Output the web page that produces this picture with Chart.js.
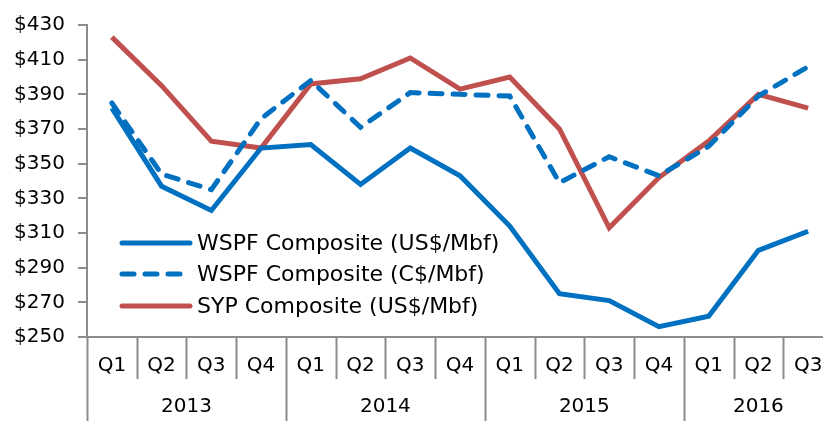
<!DOCTYPE html>
<html>
<head>
<meta charset="utf-8">
<script src="https://cdn.jsdelivr.net/npm/chart.js@4/dist/chart.umd.min.js"></script>
<style>
    html, body {margin: 0; padding: 0; background: #fff; overflow: hidden;}
    #wrap {position: absolute; left: 0; top: 0;}
</style>
</head>
<body>
<div id="wrap"><canvas id="lumberChart" width="833" height="421"></canvas></div>
<script>
const quarters = ["Q1", "Q2", "Q3", "Q4", "Q1", "Q2", "Q3", "Q4", "Q1", "Q2", "Q3", "Q4", "Q1", "Q2", "Q3"];
const years = ["2013", "2014", "2015", "2016"];
const quartersPerYear = [4, 4, 4, 3];

const wspfUS = [382, 337, 323, 359, 361, 338, 359, 343, 314, 275, 271, 256, 262, 300, 311];
const wspfCA = [385, 344, 335, 376, 398, 371, 391, 390, 389, 339, 354, 343, 360, 389, 406];
const sypUS = [423, 395, 363, 359, 396, 399, 411, 393, 400, 370, 313, 342, 363, 390, 382];

const seriesNames = ["WSPF Composite (US$/Mbf)", "WSPF Composite (C$/Mbf)", "SYP Composite (US$/Mbf)"];

const blue = "#0070c0";
const red = "#c0504d";
const axisGray = "#8c8c8c";
const font = "DejaVu Sans, Verdana, sans-serif";

// separators between quarters + year labels under them
const yearAxis = {
    id: "yearAxis",
    afterDraw(chart) {
        const {ctx, chartArea, scales: {x}} = chart;
        const bottom = chart.height;
        const n = quarters.length;
        const edge = i => {
            if (i === 0) return chartArea.left;
            if (i === n) return chartArea.right + 20;
            return (x.getPixelForValue(i - 1) + x.getPixelForValue(i)) / 2;
        };
        ctx.save();
        ctx.strokeStyle = axisGray;
        ctx.lineWidth = 2;
        let starts = [0];
        quartersPerYear.reduce((acc, q) => { starts.push(acc + q); return acc + q; }, 0);
        for (let i = 0; i < n; i++) {
            const isYear = starts.includes(i);
            const px = Math.round(edge(i)) + 0.5;
            ctx.beginPath();
            ctx.moveTo(px, chartArea.bottom);
            ctx.lineTo(px, isYear ? bottom : chartArea.bottom + 42);
            ctx.stroke();
        }
        ctx.fillStyle = "#000";
        ctx.font = "20px " + font;
        ctx.textAlign = "center";
        ctx.textBaseline = "middle";
        years.forEach((y, k) => {
            const a = edge(starts[k]);
            const b = k === years.length - 1 ? chartArea.right : edge(starts[k + 1]);
            ctx.fillText(y, (a + b) / 2, chartArea.bottom + 70);
        });
        ctx.restore();
    }
};

// legend drawn inside the plot area
const insideLegend = {
    id: "insideLegend",
    afterDraw(chart) {
        const {ctx} = chart;
        const rows = [243, 274, 306];
        ctx.save();
        chart.data.datasets.forEach((ds, i) => {
            const y = rows[i];
            ctx.strokeStyle = ds.borderColor;
            ctx.lineWidth = 5;
            ctx.lineCap = "round";
            ctx.setLineDash(ds.borderDash || []);
            ctx.beginPath();
            ctx.moveTo(122, y);
            ctx.lineTo(190, y);
            ctx.stroke();
            ctx.setLineDash([]);
            ctx.fillStyle = "#000";
            ctx.font = "22px " + font;
            ctx.textAlign = "left";
            ctx.textBaseline = "middle";
            ctx.fillText(ds.label, 197, y + 1);
        });
        ctx.restore();
    }
};

new Chart(document.getElementById("lumberChart"), {
    type: "line",
    data: {
        labels: quarters,
        datasets: [
            {label: seriesNames[0], data: wspfUS, borderColor: blue, borderWidth: 5},
            {label: seriesNames[1], data: wspfCA, borderColor: blue, borderWidth: 5, borderDash: [12, 11], borderCapStyle: "round"},
            {label: seriesNames[2], data: sypUS, borderColor: red, borderWidth: 5}
        ]
    },
    options: {
        responsive: false,
        animation: false,
        layout: {padding: {top: 16, right: 0, left: 0, bottom: 0}},
        elements: {point: {radius: 0}, line: {tension: 0}},
        plugins: {legend: {display: false}, tooltip: {enabled: false}},
        scales: {
            x: {
                offset: true,
                grid: {display: false},
                border: {display: true, color: axisGray, width: 2},
                ticks: {color: "#000", font: {family: font, size: 20}, padding: 9, maxRotation: 0, autoSkip: false},
                afterFit: s => { s.height = 84; }
            },
            y: {
                min: 250,
                max: 430,
                ticks: {stepSize: 20, color: "#000", font: {family: font, size: 20}, padding: 13,
                    callback: v => "$" + v},
                grid: {drawOnChartArea: false, tickLength: 9, color: axisGray, lineWidth: 2},
                border: {display: true, color: axisGray, width: 2},
                afterFit: s => { s.width = 87; }
            }
        }
    },
    plugins: [yearAxis, insideLegend]
});
</script>
</body>
</html>
